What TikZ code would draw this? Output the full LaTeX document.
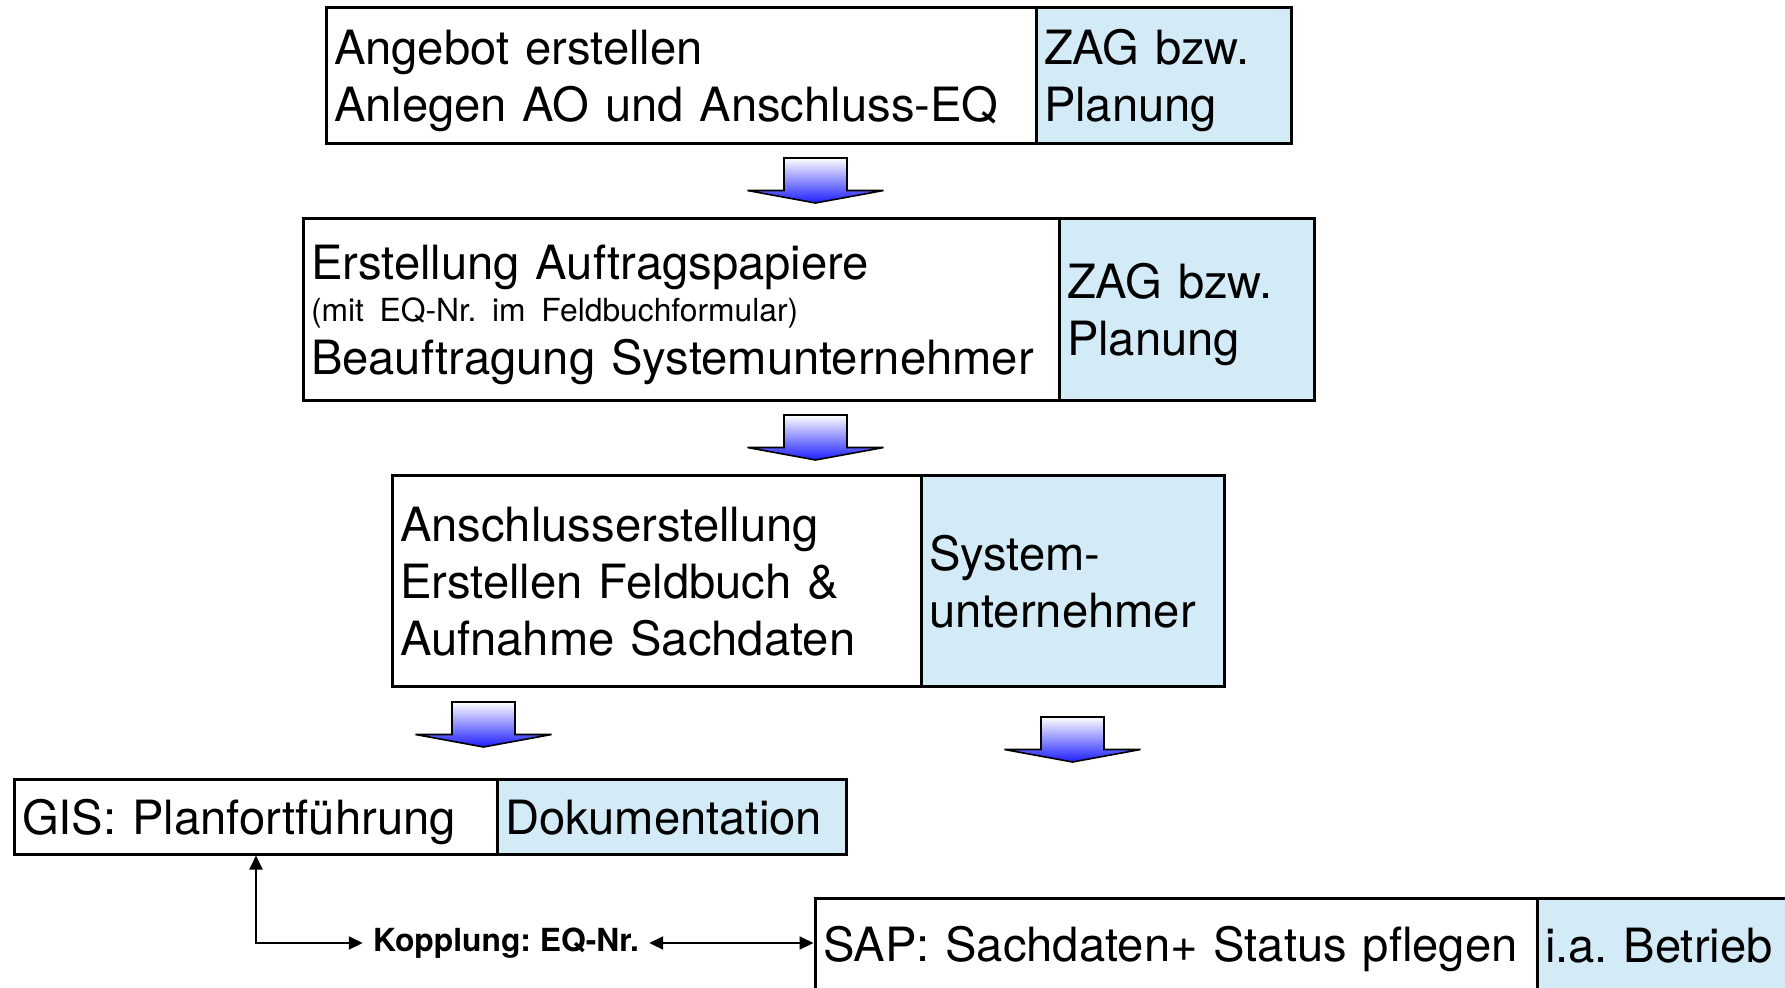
\documentclass[tikz,border=0pt]{standalone}
\usepackage{fontspec}
\setmainfont{TeX Gyre Heros}
\usetikzlibrary{arrows.meta}
\frenchspacing
\definecolor{cellblue}{RGB}{211,234,247}
\definecolor{arrowblue}{RGB}{30,30,255}
\newcommand\cellTop{\rule{0pt}{23pt}}
\newcommand\cellBot{\rule[-5pt]{0pt}{5pt}}
\newcommand\cellfont{\fontsize{23.6}{28.5}\selectfont}
\newcommand\notefont{\fontsize{15.9}{19}\selectfont}
\newcommand\flowarrow[2]{\path[blockarrow] ({#1-31.5},{#2}) -- ({#1+31.5},{#2}) -- ({#1+31.5},{#2+32.5}) -- ({#1+68},{#2+32.5}) -- ({#1},{#2+45}) -- ({#1-68},{#2+32.5}) -- ({#1-31.5},{#2+32.5}) -- cycle;}
\begin{document}
\begin{tikzpicture}[x=0.5pt,y=-0.5pt,
  cell/.style={draw=black, line width=1.5pt, anchor=north west, outer sep=0pt, align=left, inner xsep=4pt, inner ysep=0pt, font=\cellfont},
  whitecell/.style={cell, fill=white},
  bluecell/.style={cell, fill=cellblue},
  conn/.style={line width=1pt, {Triangle[length=7pt,width=6.5pt]}-{Triangle[length=7pt,width=6.5pt]}},
  blockarrow/.style={draw=black, line width=0.8pt, top color=white, bottom color=arrowblue, line join=miter},
]
\useasboundingbox (0,0) rectangle (1785,987);
\clip (0,0) rectangle (1785,987);

% box 1
\node[whitecell, minimum width=355pt, minimum height=68pt, text width=347pt] (b1l) at (326,7)
  {\cellTop Angebot erstellen\\Anlegen AO und Anschluss-EQ\cellBot};
\node[bluecell, minimum width=127.5pt, minimum height=68pt, text width=119.5pt] (b1r) at (1036,7)
  {\cellTop ZAG bzw.\\Planung\cellBot};

% box 2
\node[whitecell, minimum width=378pt, minimum height=91pt, text width=370pt] (b2l) at (303,218)
  {\cellTop Erstellung Auftragspapiere\\[-7.5pt]{\notefont (mit EQ-Nr. im Feldbuchformular)}\\[-2pt]Beauftragung Systemunternehmer\cellBot};
\node[bluecell, minimum width=127.5pt, minimum height=91pt, text width=119.5pt] (b2r) at (1059,218)
  {\cellTop ZAG bzw.\\Planung\cellBot};

% box 3
\node[whitecell, minimum width=264.5pt, minimum height=105.5pt, text width=256.5pt] (b3l) at (392,475)
  {\cellTop Anschlusserstellung\\Erstellen Feldbuch \&\\Aufnahme Sachdaten\cellBot};
\node[bluecell, minimum width=151.5pt, minimum height=105.5pt, text width=143.5pt] (b3r) at (921,475)
  {\cellTop System-\\unternehmer\cellBot};

% box 4
\node[whitecell, minimum width=241.5pt, minimum height=37.5pt, text width=233.5pt] (b4l) at (14,779)
  {\cellTop GIS: Planfortführung\cellBot};
\node[bluecell, minimum width=174.5pt, minimum height=37.5pt, text width=166.5pt] (b4r) at (497,779)
  {\cellTop Dokumentation\cellBot};

% box 5
\node[whitecell, minimum width=361pt, minimum height=46pt, text width=353pt] (b5l) at (815,898)
  {\cellTop SAP: Sachdaten+ Status pflegen\cellBot};
\node[bluecell, minimum width=150pt, minimum height=46pt, text width=142pt] (b5r) at (1537,898)
  {\cellTop i.a. Betrieb\cellBot};

% block arrows
\flowarrow{815.5}{158}
\flowarrow{815.5}{415}
\flowarrow{483.5}{702}
\flowarrow{1072.5}{717}

% coupling
\node[font=\notefont\bfseries, inner xsep=5pt, inner ysep=2pt] (kop) at (506,943) {Kopplung: EQ-Nr.};
\draw[conn, shorten <=0.75pt] ([xshift=121pt]b4l.south west) |- (kop.west);
\draw[conn, shorten >=0.75pt] (kop.east) -- (kop.east -| b5l.west);
\end{tikzpicture}
\end{document}
